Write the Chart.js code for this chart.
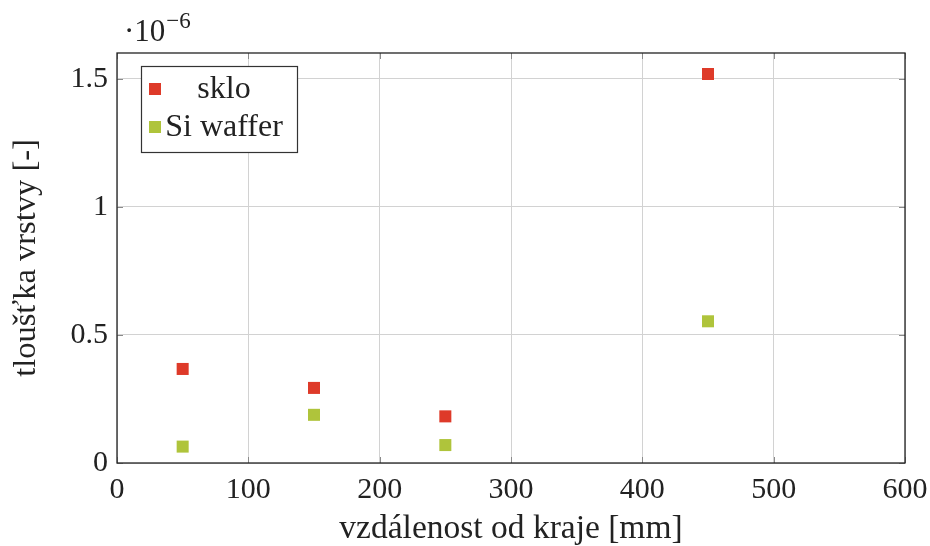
<!DOCTYPE html>
<html><head><meta charset="utf-8">
<script src="https://cdn.jsdelivr.net/npm/chart.js@4/dist/chart.umd.min.js"></script>
<style>html,body{margin:0;padding:0;background:#fff;} #c{display:block;}</style>
</head><body>
<canvas id="c" width="930" height="546"></canvas>
<script>
const xPositions = [50, 150, 250, 450];
const skloValues = [0.367e-6, 0.293e-6, 0.182e-6, 1.518e-6];
const siWafferValues = [0.064e-6, 0.188e-6, 0.070e-6, 0.553e-6];
const xTickValues = [0, 100, 200, 300, 400, 500, 600];
const yTickValues = [0, 0.5e-6, 1e-6, 1.5e-6];
const yTickLabels = ['0', '0.5', '1', '1.5'];
const seriesNames = ['sklo', 'Si waffer'];
const seriesColors = ['#de3a29', '#afc43b'];
const xTitle = 'vzdálenost od kraje [mm]';
const yTitle = 'tloušťka vrstvy [-]';

const FONT = '"Liberation Serif", "DejaVu Serif", serif';
const TXT = '#222';

function pts(vals) { return xPositions.map((x, i) => ({x: x, y: vals[i]})); }

const decor = {
  id: 'decor',
  afterDatasetsDraw(chart) {
    const {ctx, chartArea: a, scales} = chart;
    ctx.save();
    ctx.strokeStyle = '#8a8a8a';
    ctx.lineWidth = 1;
    const L = 6;
    ctx.beginPath();
    xTickValues.forEach(v => {
      const px = Math.round(scales.x.getPixelForValue(v)) + 0.5;
      ctx.moveTo(px, a.bottom); ctx.lineTo(px, a.bottom - L);
      ctx.moveTo(px, a.top); ctx.lineTo(px, a.top + L);
    });
    yTickValues.forEach(v => {
      const py = Math.round(scales.y.getPixelForValue(v)) + 0.5;
      ctx.moveTo(a.left, py); ctx.lineTo(a.left + L, py);
      ctx.moveTo(a.right, py); ctx.lineTo(a.right - L, py);
    });
    ctx.stroke();
    ctx.strokeStyle = '#222';
    ctx.lineWidth = 1.3;
    ctx.strokeRect(a.left, a.top, a.right - a.left, a.bottom - a.top);
    // exponent label
    ctx.fillStyle = TXT;
    ctx.textBaseline = 'alphabetic';
    ctx.textAlign = 'left';
    ctx.font = '31px ' + FONT;
    const base = '·10';
    ctx.fillText(base, 124, 41);
    const w = ctx.measureText(base).width;
    ctx.font = '23px ' + FONT;
    ctx.fillText('−6', 124 + w + 1, 28);
    // legend
    const bx = 141, by = 66, bw = 156, bh = 86;
    ctx.fillStyle = '#fff';
    ctx.fillRect(bx, by, bw, bh);
    ctx.strokeStyle = '#333';
    ctx.lineWidth = 1.2;
    ctx.strokeRect(bx + 0.5, by + 0.5, bw, bh);
    const rows = [89, 127];
    chart.data.datasets.forEach((ds, i) => {
      ctx.fillStyle = ds.backgroundColor;
      ctx.fillRect(149, rows[i] - 6, 12, 12);
      ctx.fillStyle = TXT;
      ctx.font = '32px ' + FONT;
      ctx.textAlign = 'center';
      ctx.textBaseline = 'middle';
      ctx.fillText(ds.label, 224, rows[i] + 1);
    });
    ctx.restore();
  }
};

new Chart(document.getElementById('c'), {
  type: 'scatter',
  data: {
    datasets: [
      {label: seriesNames[0], data: pts(skloValues), backgroundColor: seriesColors[0], borderColor: seriesColors[0], borderWidth: 0, pointStyle: 'rect', pointRadius: 8.5, pointHoverRadius: 8.5},
      {label: seriesNames[1], data: pts(siWafferValues), backgroundColor: seriesColors[1], borderColor: seriesColors[1], borderWidth: 0, pointStyle: 'rect', pointRadius: 8.5, pointHoverRadius: 8.5}
    ]
  },
  options: {
    responsive: false,
    animation: false,
    devicePixelRatio: 1,
    layout: {padding: {left: 0, top: 53, right: 25, bottom: 0}},
    plugins: {legend: {display: false}, tooltip: {enabled: false}},
    scales: {
      x: {
        type: 'linear', min: 0, max: 600,
        afterFit(s) { s.height = 83; s.paddingLeft = 0; s.paddingRight = 0; },
        afterBuildTicks(s) { s.ticks = xTickValues.map(v => ({value: v})); },
        grid: {color: '#d2d2d2', lineWidth: 1, drawTicks: false},
        border: {display: false},
        ticks: {color: TXT, font: {family: FONT, size: 30}, padding: 9, callback: v => String(v), maxRotation: 0},
        title: {display: true, text: xTitle, color: TXT, font: {family: FONT, size: 33.5, lineHeight: 1.0}, padding: {top: 0, bottom: 0}}
      },
      y: {
        type: 'linear', min: 0, max: 1.6e-6,
        afterFit(s) { s.width = 117; s.paddingTop = 0; s.paddingBottom = 0; },
        afterBuildTicks(s) { s.ticks = yTickValues.map(v => ({value: v})); },
        grid: {color: '#d2d2d2', lineWidth: 1, drawTicks: false},
        border: {display: false},
        ticks: {color: TXT, font: {family: FONT, size: 30}, padding: 9,
          callback: (v) => { const i = yTickValues.findIndex(t => Math.abs(t - v) < 1e-12); return i >= 0 ? yTickLabels[i] : ''; }},
        title: {display: true, text: yTitle, color: TXT, font: {family: FONT, size: 32.5}, padding: {top: 7, bottom: 0}}
      }
    }
  },
  plugins: [decor]
});
</script>
</body></html>
